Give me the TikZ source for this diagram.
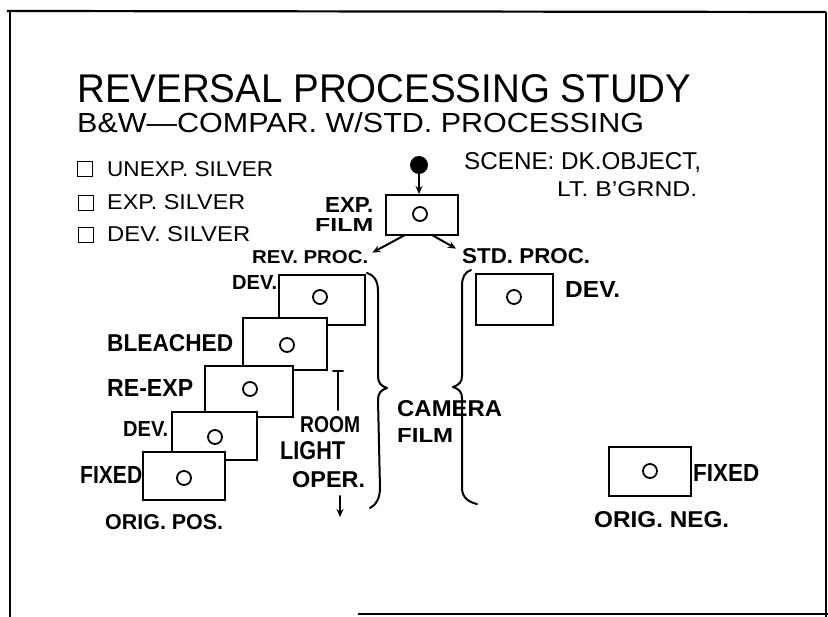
\documentclass[tikz,border=0pt]{standalone}
\usepackage{fontspec}
\usepackage{graphicx}
\setmainfont{Liberation Sans}
\newfontfamily\hand{Liberation Sans}
\usetikzlibrary{arrows.meta}
\newcommand\fitt[3]{\resizebox{#1pt}{#2pt}{#3}}
\begin{document}
\begin{tikzpicture}[x=1pt,y=-1pt,
  ink/.style={line width=2pt, line cap=round, line join=round},
  film/.style={draw, fill=white, line width=2pt, inner sep=0pt},
  obj/.style={circle, draw, line width=1.8pt, minimum size=14pt, inner sep=0pt},
  lab/.style={inner sep=0pt, anchor=base west, font=\hand},
  blab/.style={lab, font=\hand\bfseries},
  leg/.style={draw, line width=1.6pt, minimum size=15pt, inner sep=0pt},
  arr/.style={ink, -{Stealth[length=8pt,width=7pt]}},
]
\useasboundingbox (0,0) rectangle (828,617);
% frame
\draw[line width=2.2pt] (7,11) -- (826,12);
\draw[line width=2pt] (10,11) -- (10,617);
\draw[line width=1.4pt] (826,12) -- (826,617);
\draw[line width=2.2pt] (358,614) -- (828,614);

% titles
\node[lab] (title) at (77,103) {\fitt{614}{28}{REVERSAL PROCESSING STUDY}};
\node[lab] (sub) at (77,133) {\fitt{567}{20}{B\&W—COMPAR. W/STD. PROCESSING}};

% legend
\node[leg] (lg1) at (85,169) {};
\node[lab] (lt1) at (107,177) {\fitt{166}{15}{UNEXP. SILVER}};
\node[leg] (lg2) at (86,203) {};
\node[lab] (lt2) at (107,210) {\fitt{138}{15}{EXP. SILVER}};
\node[leg] (lg3) at (86,235) {};
\node[lab] (lt3) at (107,242) {\fitt{143}{15}{DEV. SILVER}};

% scene
\node[lab] (scene) at (464,170) {\fitt{237}{17}{SCENE: DK.OBJECT,}};
\node[lab] (scene2) at (557,197) {\fitt{140}{15}{LT. B’GRND.}};

% exposed film
\node[circle, fill=black, minimum size=18pt, inner sep=0pt] (dot) at (419,165) {};
\node[film, minimum width=72pt, minimum height=40pt] (ef) at (422,215) {};
\node[obj] (efo) at (420,214) {};
\node[blab] (exp) at (325,213) {\fitt{48}{15}{EXP.}};
\node[blab] (film) at (315,232) {\fitt{58}{13}{FILM}};
\draw[arr] (dot) -- (dot |- ef.north);

% branch labels
\node[blab] (rev) at (252,264) {\fitt{116}{13}{REV. PROC.}};
\node[blab] (std) at (462,264) {\fitt{128}{15}{STD. PROC.}};
\coordinate (efl) at (405,235);
\coordinate (efr) at (432,235);
\draw[arr] (efl) -- ([xshift=4pt,yshift=5pt]rev.east);
\draw[arr] (efr) -- ([xshift=-6pt,yshift=8pt]std.west);

% reversal stack (back to front)
\node[film, minimum width=86pt, minimum height=50pt] (r1) at (322,300) {};
\node[obj] (r1o) at (320,297) {};
\node[film, minimum width=84pt, minimum height=52pt] (r2) at (285,344) {};
\node[obj] (r2o) at (287,345) {};
\node[film, minimum width=88pt, minimum height=51pt] (r3) at (249,391.5) {};
\node[obj] (r3o) at (250,389) {};
\node[film, minimum width=85pt, minimum height=48pt] (r4) at (214.5,436) {};
\node[obj] (r4o) at (215,437) {};
\node[film, minimum width=82pt, minimum height=48pt] (r5) at (184,476) {};
\node[obj] (r5o) at (184,478) {};

\node[blab] (l1) at (232,290) {\fitt{45}{14}{DEV.}};
\node[blab] (l2) at (107,352) {\fitt{126}{17}{BLEACHED}};
\node[blab] (l3) at (107,397) {\fitt{86}{17}{RE-EXP}};
\node[blab] (l4) at (123,437) {\fitt{45}{15}{DEV.}};
\node[blab] (l5) at (80,484) {\fitt{62}{17}{FIXED}};
\node[blab] (pos) at (105,530) {\fitt{118}{15}{ORIG. POS.}};

% room light operation
\coordinate (tb) at (338,371);
\coordinate (tbe) at (338,410);
\draw[ink] ([xshift=-5pt]tb) -- ([xshift=5pt]tb);
\draw[ink] (tb) -- (tbe);
\node[blab] (room) at (300,433) {\fitt{60}{16}{ROOM}};
\node[blab] (light) at (280,460) {\fitt{65}{18}{LIGHT}};
\node[blab] (oper) at (292,488) {\fitt{73}{16}{OPER.}};
\coordinate (ra) at (340,496);
\coordinate (rb) at (340,517);
\draw[arr] (ra) -- (rb);

% braces
\draw[ink] (367,273) .. controls (376,276) and (378,283) .. (378,292) -- (378,376)
  .. controls (378,383) and (381,386) .. (387,388)
  .. controls (381,390) and (378,393) .. (378,400) -- (380,488)
  .. controls (380,498) and (376,505) .. (370,508);
\draw[ink] (471,270) .. controls (465,272) and (462,277) .. (462,286) -- (462,376)
  .. controls (462,382) and (459,385) .. (453,387)
  .. controls (459,389) and (462,392) .. (462,398) -- (462,488)
  .. controls (462,497) and (468,502) .. (477,504);
\node[blab] (cam) at (397,417) {\fitt{105}{16}{CAMERA}};
\node[blab] (camf) at (397,443) {\fitt{56}{14}{FILM}};

% standard processing
\node[film, minimum width=77pt, minimum height=51pt] (s1) at (514.5,299.5) {};
\node[obj] (s1o) at (514,297) {};
\node[blab] (sl1) at (565,298) {\fitt{55}{16}{DEV.}};
\node[film, minimum width=82pt, minimum height=49pt] (s2) at (650,471.5) {};
\node[obj] (s2o) at (650,471) {};
\node[blab] (sl2) at (693,482) {\fitt{66}{17}{FIXED}};
\node[blab] (neg) at (594,528) {\fitt{135}{16}{ORIG. NEG.}};
\end{tikzpicture}
\end{document}
